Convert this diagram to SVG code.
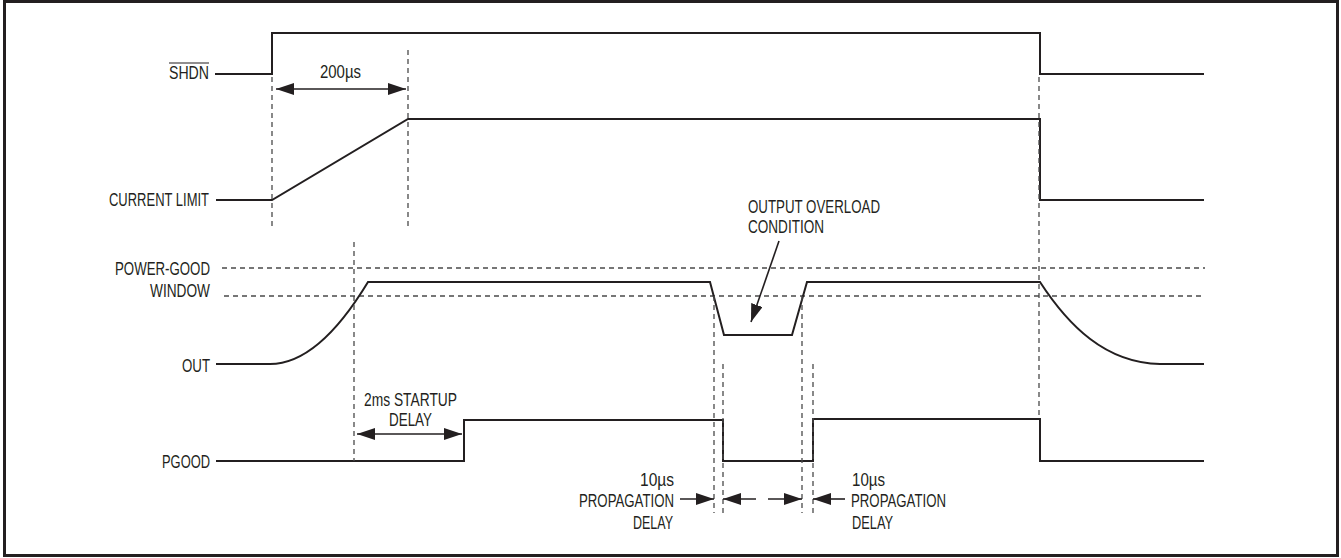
<svg xmlns="http://www.w3.org/2000/svg" width="1341" height="558" viewBox="0 0 1341 558">
<style>
.sig{fill:none;stroke:#231f20;stroke-width:2;stroke-linejoin:miter}
.dash{fill:none;stroke:#4a4a4a;stroke-width:1.3;stroke-dasharray:5 4}
.arr{fill:none;stroke:#231f20;stroke-width:1.6}
text{font-family:"Liberation Sans",Arial,sans-serif;font-size:18px;fill:#231f20}
</style>
<defs>
<marker id="ah" markerUnits="userSpaceOnUse" markerWidth="19" markerHeight="13" refX="18" refY="6" orient="auto-start-reverse" viewBox="0 0 19 13">
<path d="M0,0 L18,6 L0,12 z" fill="#231f20"/>
</marker>
</defs>
<rect x="4.5" y="1.5" width="1333" height="554" fill="#fff" stroke="#231f20" stroke-width="3"/>

<g id="thresholds">
<line class="dash" x1="222" y1="268" x2="1205" y2="268"/>
<line class="dash" x1="224" y1="296" x2="1205" y2="296"/>
</g>

<g id="signal-shdn">
<text x="169" y="79" textLength="40" lengthAdjust="spacingAndGlyphs">SHDN</text>
<line x1="169" y1="63" x2="209" y2="63" stroke="#231f20" stroke-width="1.2"/>
<path class="sig" d="M215,74 H272 V33 H1040 V74 H1204"/>
</g>

<g id="signal-current-limit">
<text x="109" y="206" textLength="100" lengthAdjust="spacingAndGlyphs">CURRENT LIMIT</text>
<path class="sig" d="M216,200 H272 L408,119 H1040 V200 H1204"/>
</g>

<g id="signal-out">
<text x="115" y="275" textLength="95" lengthAdjust="spacingAndGlyphs">POWER-GOOD</text>
<text x="150" y="297" textLength="60" lengthAdjust="spacingAndGlyphs">WINDOW</text>
<text x="182" y="372" textLength="28" lengthAdjust="spacingAndGlyphs">OUT</text>
<path class="sig" d="M216,364 H270 C310,364 345,320 368,282 H710 L724,335 H792 L807,282 H1040 C1068,325 1105,363 1160,364 H1204"/>
</g>

<g id="signal-pgood">
<text x="162" y="468" textLength="48" lengthAdjust="spacingAndGlyphs">PGOOD</text>
<path class="sig" d="M216,461 H464 V420 H723 V461 H813 V419 H1040 V461 H1204"/>
</g>

<g id="labels">
<text x="320" y="78" textLength="41" lengthAdjust="spacingAndGlyphs">200µs</text>
<text x="364" y="406" textLength="93" lengthAdjust="spacingAndGlyphs">2ms STARTUP</text>
<text x="389" y="426" textLength="43" lengthAdjust="spacingAndGlyphs">DELAY</text>
<text x="748" y="213" textLength="132" lengthAdjust="spacingAndGlyphs">OUTPUT OVERLOAD</text>
<text x="748" y="233" textLength="76" lengthAdjust="spacingAndGlyphs">CONDITION</text>
<text x="640" y="486" textLength="34" lengthAdjust="spacingAndGlyphs">10µs</text>
<text x="579" y="507" textLength="95" lengthAdjust="spacingAndGlyphs">PROPAGATION</text>
<text x="633" y="529" textLength="40" lengthAdjust="spacingAndGlyphs">DELAY</text>
<text x="852" y="486" textLength="33" lengthAdjust="spacingAndGlyphs">10µs</text>
<text x="851" y="507" textLength="95" lengthAdjust="spacingAndGlyphs">PROPAGATION</text>
<text x="852" y="529" textLength="41" lengthAdjust="spacingAndGlyphs">DELAY</text>
</g>

<g id="connectors">
<line class="dash" x1="272" y1="77" x2="272" y2="227"/>
<line class="dash" x1="408" y1="50" x2="408" y2="227"/>
<line class="dash" x1="354" y1="242" x2="354" y2="461"/>
<line class="dash" x1="1039" y1="77" x2="1039" y2="418"/>
<line class="dash" x1="714" y1="296" x2="714" y2="513"/>
<line class="dash" x1="723" y1="364" x2="723" y2="513"/>
<line class="dash" x1="802" y1="296" x2="802" y2="513"/>
<line class="dash" x1="813" y1="364" x2="813" y2="513"/>
<line class="arr" x1="276" y1="89" x2="406" y2="89" marker-start="url(#ah)" marker-end="url(#ah)"/>
<line class="arr" x1="357" y1="434" x2="462" y2="434" marker-start="url(#ah)" marker-end="url(#ah)"/>
<line class="arr" x1="779" y1="241" x2="751" y2="322" marker-end="url(#ah)"/>
<line class="arr" x1="680" y1="499" x2="714" y2="499" marker-end="url(#ah)"/>
<line class="arr" x1="756" y1="499" x2="723" y2="499" marker-end="url(#ah)"/>
<line class="arr" x1="768" y1="499" x2="802" y2="499" marker-end="url(#ah)"/>
<line class="arr" x1="845" y1="499" x2="813" y2="499" marker-end="url(#ah)"/>
</g>
</svg>
